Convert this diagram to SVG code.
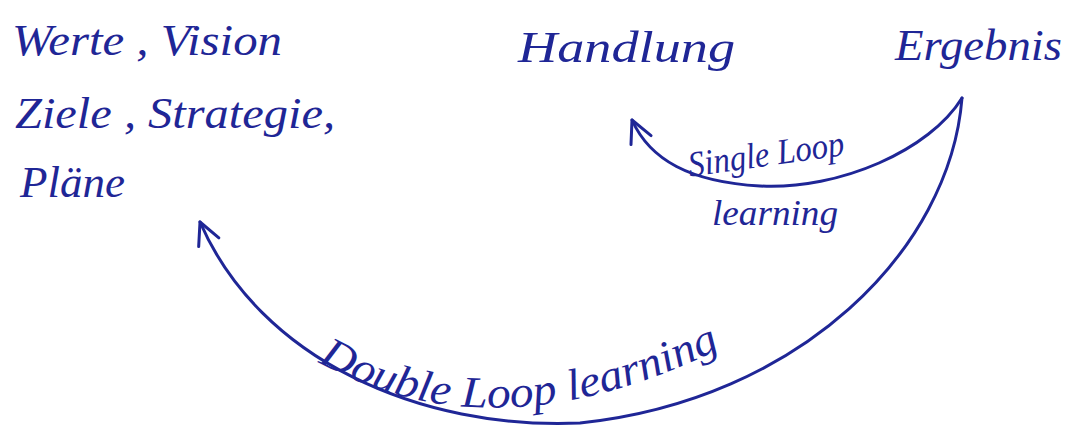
<svg xmlns="http://www.w3.org/2000/svg" width="1068" height="429" viewBox="0 0 1068 429">
  <defs>
    <style>
      .ink { fill: #1f2696; font-family: "Liberation Serif", "DejaVu Serif", serif; font-style: italic; }
      .big { font-size: 44px; }
      .small { font-size: 36px; }
      .loop { fill: none; stroke: #1f2696; stroke-width: 3; stroke-linecap: round; stroke-linejoin: round; }
    </style>
    <marker id="open-arrow" viewBox="-26 -16 30 32" refX="0" refY="0" markerWidth="30" markerHeight="32" markerUnits="userSpaceOnUse" orient="auto">
      <path d="M -22 -11 L 0 0 L -22 11" fill="none" stroke="#1f2696" stroke-width="3" stroke-linecap="round" stroke-linejoin="round"/>
    </marker>
    <path id="double-baseline" d="M 318 362 Q 492 460 722 348"/>
  </defs>

  <rect width="1068" height="429" fill="#ffffff"/>

  <!-- values, goals and plans -->
  <g id="node-werte">
    <text class="ink big" x="12" y="55" textLength="270" lengthAdjust="spacingAndGlyphs">Werte , Vision</text>
    <text class="ink big" x="15" y="128" textLength="320" lengthAdjust="spacingAndGlyphs">Ziele , Strategie,</text>
    <text class="ink big" x="20" y="197" textLength="105" lengthAdjust="spacingAndGlyphs">Pläne</text>
  </g>

  <!-- action -->
  <g id="node-handlung">
    <text class="ink big" x="518" y="62" textLength="217" lengthAdjust="spacingAndGlyphs">Handlung</text>
  </g>

  <!-- outcome -->
  <g id="node-ergebnis">
    <text class="ink big" x="895" y="60" textLength="167" lengthAdjust="spacingAndGlyphs">Ergebnis</text>
  </g>

  <!-- feedback loops -->
  <g id="connectors">
    <path class="loop" d="M 962 98 C 930 150, 840 190, 760 186 C 690 182, 650 160, 632 120" marker-end="url(#open-arrow)"/>
    <text class="ink small" x="688" y="166" textLength="157" lengthAdjust="spacingAndGlyphs" transform="rotate(-8 766 158)">Single Loop</text>
    <text class="ink small" x="712" y="225" textLength="126" lengthAdjust="spacingAndGlyphs">learning</text>

    <path class="loop" d="M 962 98 C 950 250, 800 400, 580 423 C 420 430, 260 360, 200 222" marker-end="url(#open-arrow)"/>
    <text class="ink big" textLength="420" lengthAdjust="spacingAndGlyphs">
      <textPath href="#double-baseline" startOffset="0" textLength="420" lengthAdjust="spacingAndGlyphs">Double Loop learning</textPath>
    </text>
  </g>
</svg>
